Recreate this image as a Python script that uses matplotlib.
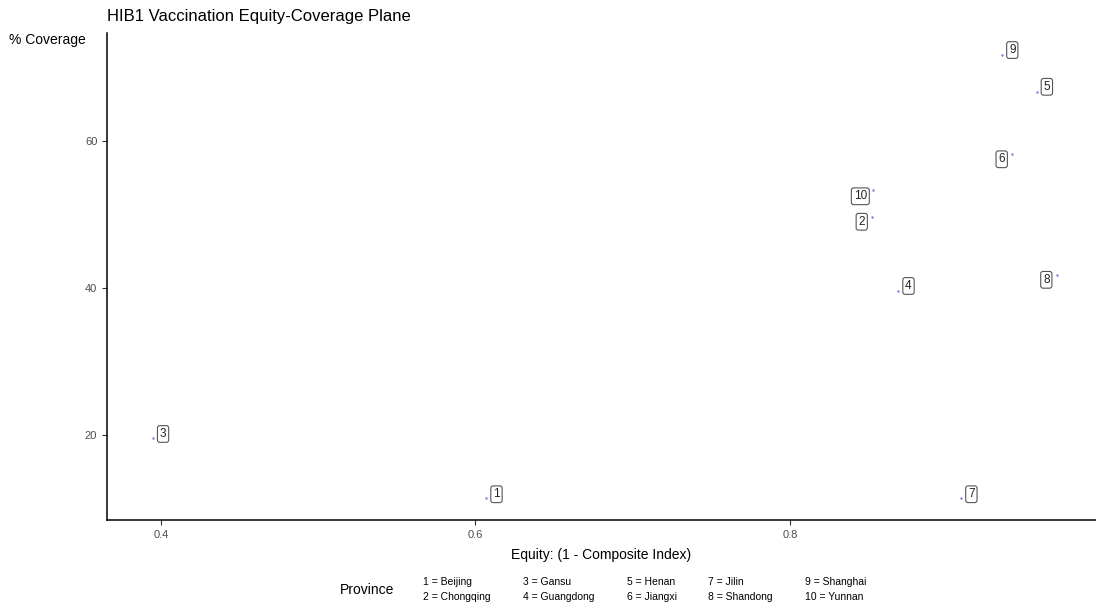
import matplotlib
matplotlib.use("Agg")
import matplotlib.pyplot as plt

plt.rcParams['font.family'] = ['Liberation Sans', 'DejaVu Sans']

# Province data: equity score (1 - composite index) and HIB1 coverage (%)
ids = [1, 2, 3, 4, 5, 6, 7, 8, 9, 10]
provinces = ["Beijing", "Chongqing", "Gansu", "Guangdong", "Henan",
             "Jiangxi", "Jilin", "Shandong", "Shanghai", "Yunnan"]
equity = [0.607, 0.852, 0.395, 0.869, 0.957, 0.941, 0.909, 0.970, 0.935, 0.853]
coverage = [11.4, 49.7, 19.6, 39.6, 66.7, 58.2, 11.4, 41.8, 71.7, 53.3]

# label offsets (pixels, right/up) so boxes sit beside their points
label_dx = [10, -10, 10, 10, 10, -10, 10, -11, 10, -13]
label_dy = [4, -5, 4, 5, 5, -5, 4, -5, 5, -6]

dpi = 100
fig = plt.figure(figsize=(10.96, 6.10), dpi=dpi)
ax = fig.add_axes([107 / 1096, 1 - 520 / 610, (1096 - 107) / 1096, (520 - 33) / 610])

ax.scatter(equity, coverage, s=3, color="#7b7bf0", linewidths=0, zorder=3)

px2pt = 72 / dpi
for i, x, y, dx, dy in zip(ids, equity, coverage, label_dx, label_dy):
    ax.annotate(str(i), (x, y), xytext=(dx * px2pt, dy * px2pt),
                textcoords="offset points", ha="center", va="center",
                fontsize=8.5, color="#222222",
                bbox=dict(boxstyle="round,pad=0.2,rounding_size=0.2",
                          fc="white", ec="#555555", lw=0.8))

ax.set_xlim(0.3657, 0.9946)
ax.set_ylim(8.44, 74.7)
ax.set_xticks([0.4, 0.6, 0.8])
ax.set_xticklabels(["0.4", "0.6", "0.8"])
ax.set_yticks([20, 40, 60])

for s in ("top", "right"):
    ax.spines[s].set_visible(False)
for s in ("left", "bottom"):
    ax.spines[s].set_color("black")
    ax.spines[s].set_linewidth(1.1)
ax.tick_params(axis="both", colors="#333333", labelcolor="#4d4d4d",
               labelsize=8, length=3.5, width=0.8)

ax.set_xlabel("Equity: (1 - Composite Index)", fontsize=10, labelpad=6)
fig.text(9 / 1096, 1 - 40 / 610, "% Coverage", fontsize=10, va="center", ha="left")
fig.text(107 / 1096, 1 - 17 / 610, "HIB1 Vaccination Equity-Coverage Plane",
         fontsize=12, va="center", ha="left")

# legend key for province numbers
fig.text(340 / 1096, 1 - 590 / 610, "Province", fontsize=10, va="center", ha="left")
col_x = [423, 523, 627, 708, 805]
row_y = [582, 597]
for k, (i, name) in enumerate(zip(ids, provinces)):
    c, r = divmod(k, 2)
    fig.text(col_x[c] / 1096, 1 - row_y[r] / 610, f"{i} = {name}",
             fontsize=7.5, va="center", ha="left")

fig.savefig("out.png", dpi=dpi)
